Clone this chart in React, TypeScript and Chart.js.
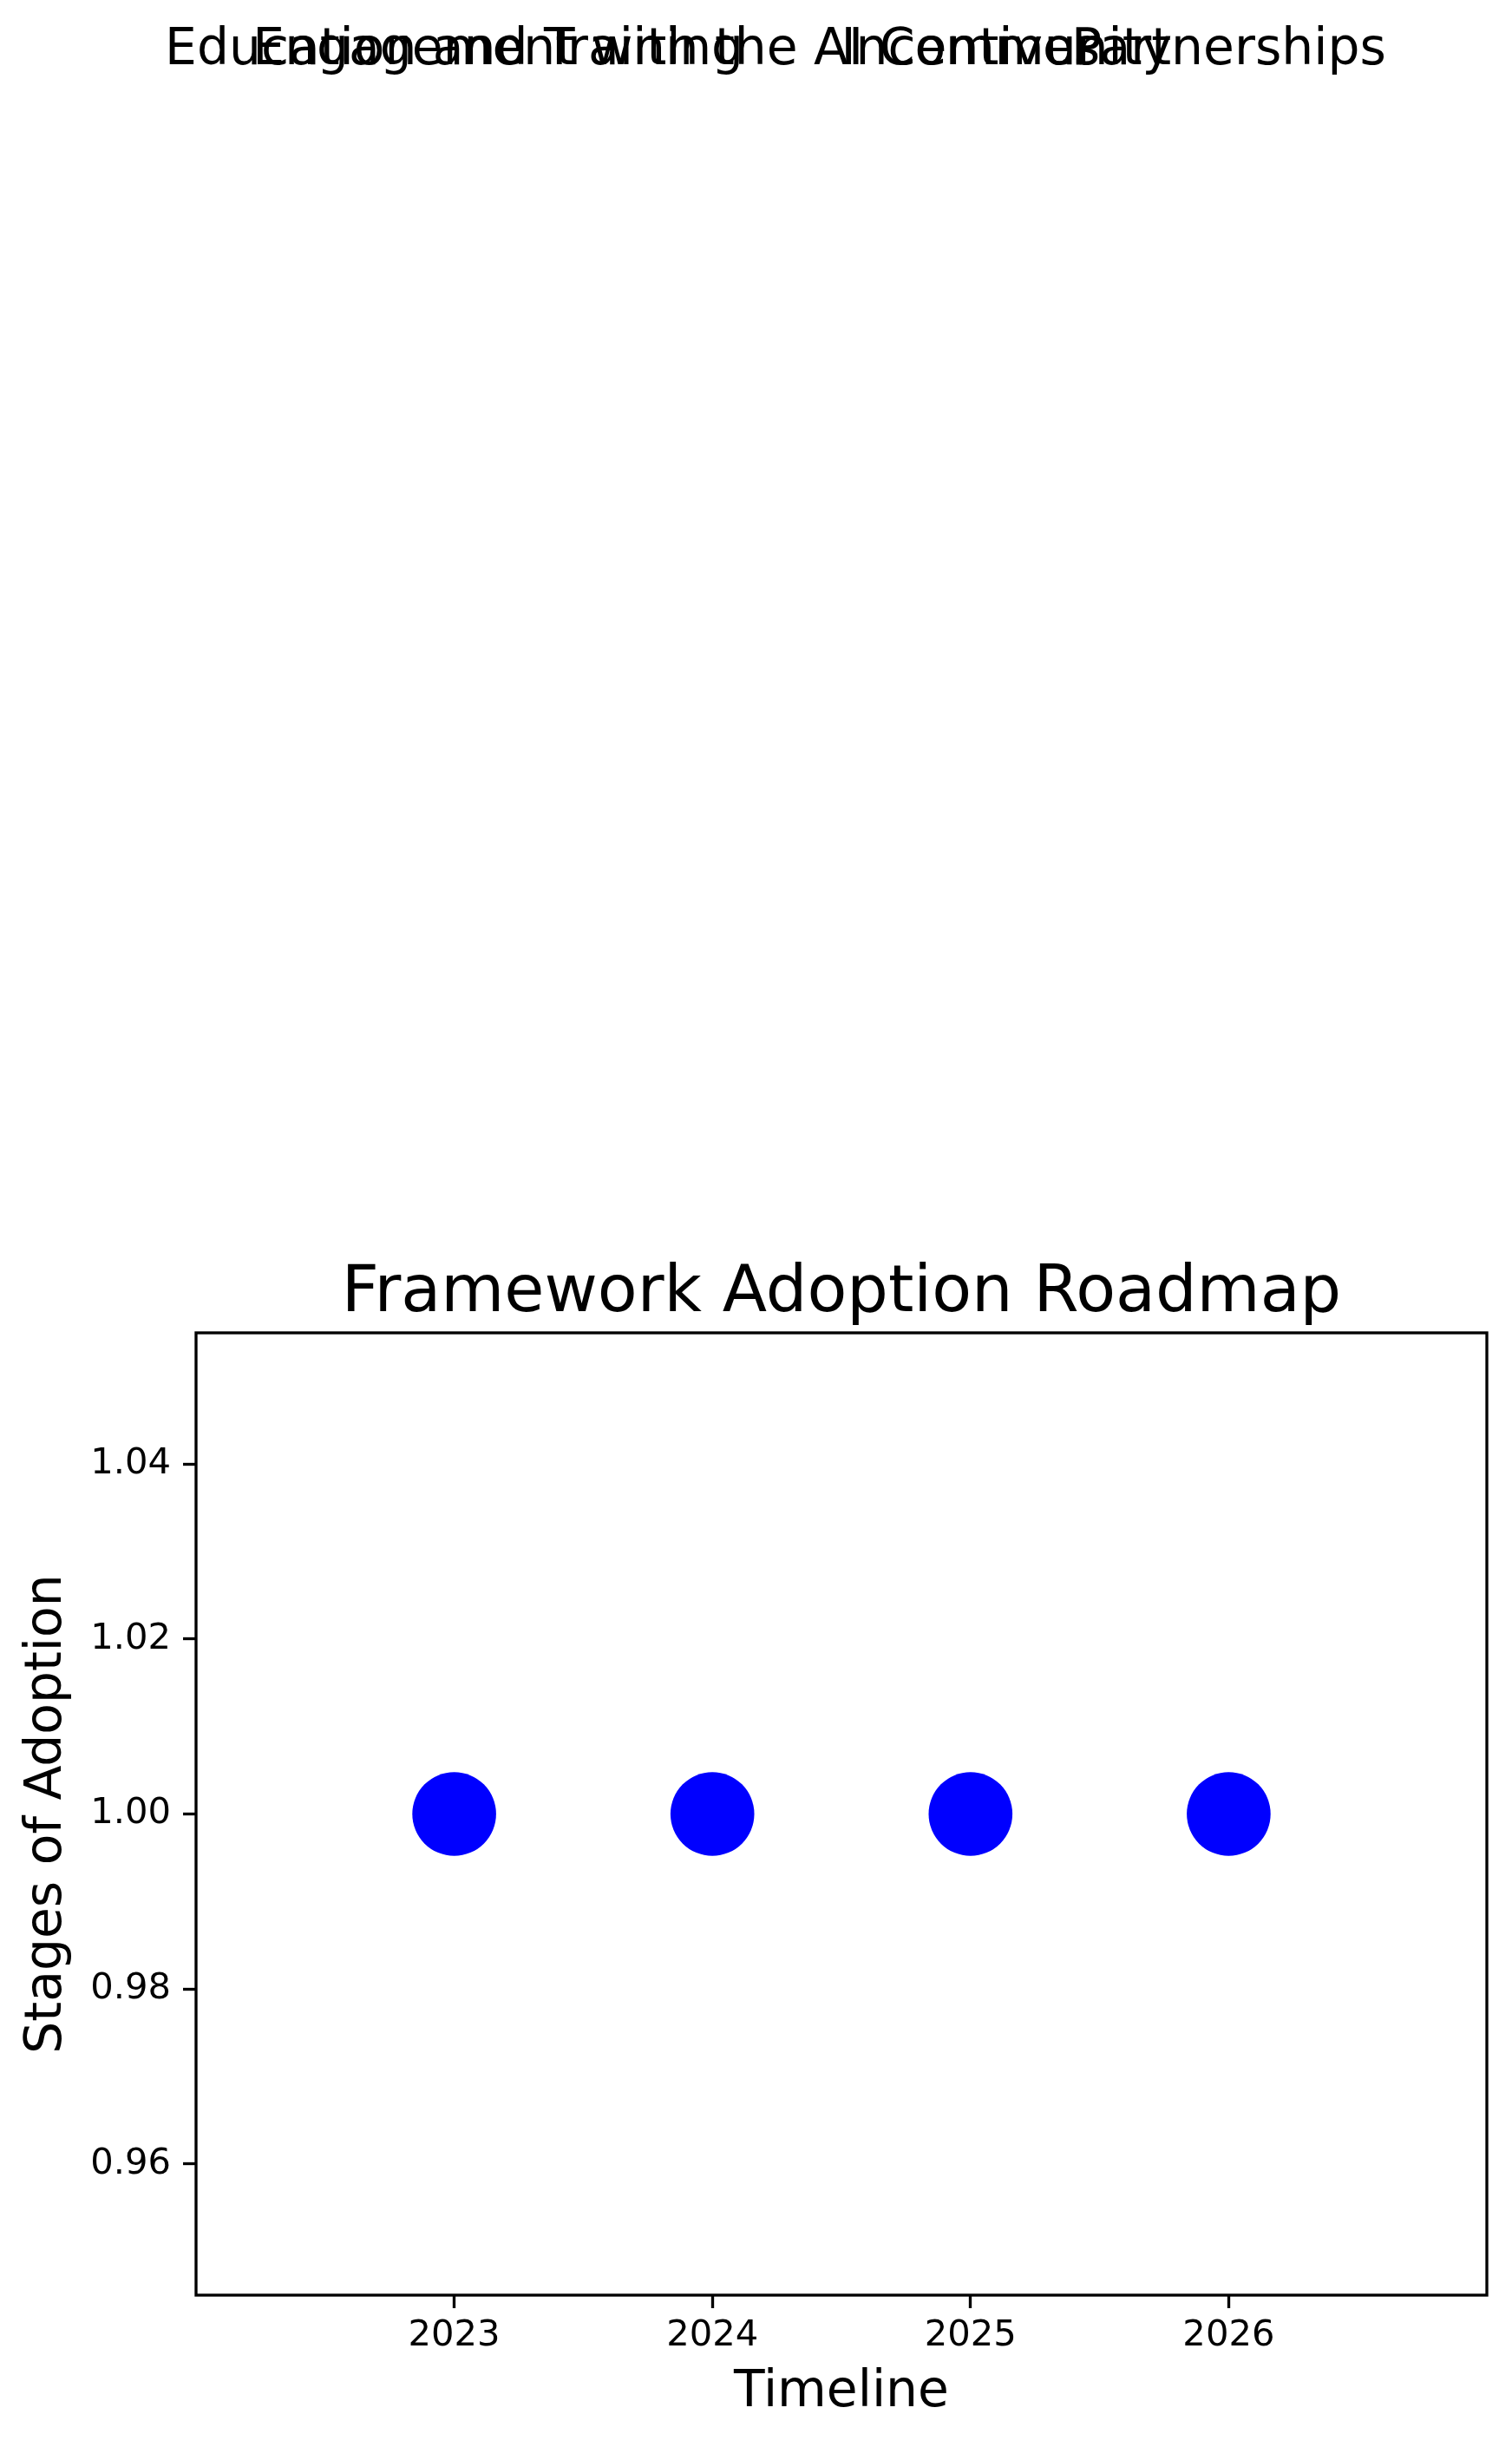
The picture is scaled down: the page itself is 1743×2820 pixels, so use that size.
import React, { useEffect, useRef } from "react";
import { Chart, registerables } from "chart.js";

Chart.register(...registerables);

const years = [2023, 2024, 2025, 2026];
const stages = [1, 1, 1, 1];
const stageLabels = [
  "Education and Training",
  "Engagement with the AI Community",
  "Incentives",
  "Partnerships",
];
const labelY = 1.2;
const xTicks = [2023, 2024, 2025, 2026];
const yTicks = [0.96, 0.98, 1.0, 1.02, 1.04];
const chartTitle = "Framework Adoption Roadmap";

const W = 1743;
const H = 2820;
const FONT = "'DejaVu Sans', sans-serif";

export default function App() {
  const ref = useRef<HTMLCanvasElement | null>(null);

  useEffect(() => {
    document.body.style.margin = "0";
    const canvas = ref.current;
    if (!canvas) return;

    const framePlugin = {
      id: "frameAndLabels",
      afterDraw(chart: any) {
        const { ctx, chartArea, scales } = chart;
        ctx.save();
        ctx.strokeStyle = "#000";
        ctx.lineWidth = 3.33;
        ctx.strokeRect(
          chartArea.left,
          chartArea.top,
          chartArea.right - chartArea.left,
          chartArea.bottom - chartArea.top
        );
        ctx.fillStyle = "#000";
        ctx.textAlign = "center";
        ctx.textBaseline = "alphabetic";
        // title
        ctx.font = `75px ${FONT}`;
        ctx.fillText(chartTitle, (chartArea.left + chartArea.right) / 2, chartArea.top - 25);
        // stage annotations at data coordinates
        ctx.font = `58.3px ${FONT}`;
        years.forEach((yr, i) => {
          const px = scales.x.getPixelForValue(yr);
          const py = scales.y.getPixelForValue(labelY);
          ctx.fillText(stageLabels[i], px, py);
        });
        ctx.restore();
      },
    };

    const chart = new Chart(canvas, {
      type: "scatter",
      data: {
        datasets: [
          {
            data: years.map((yr, i) => ({ x: yr, y: stages[i] })),
            backgroundColor: "#0000ff",
            borderWidth: 0,
            pointRadius: 48.3,
            pointHoverRadius: 48.3,
            clip: false,
          },
        ],
      },
      options: {
        responsive: false,
        animation: false,
        events: [],
        layout: { autoPadding: false, padding: { top: 1536, right: 29, left: 0, bottom: 0 } },
        plugins: {
          legend: { display: false },
          tooltip: { enabled: false },
          title: { display: false },
        },
        scales: {
          x: {
            type: "linear",
            min: 2022,
            max: 2027,
            afterBuildTicks: (scale: any) => {
              scale.ticks = xTicks.map((v) => ({ value: v }));
            },
            afterFit: (scale: any) => {
              scale.height = 175;
            },
            grid: {
              drawOnChartArea: false,
              drawTicks: true,
              tickLength: 15,
              tickWidth: 3.33,
              tickColor: "#000",
            },
            border: { display: false },
            ticks: {
              autoSkip: false,
              maxRotation: 0,
              color: "#000",
              padding: 7,
              font: { family: FONT, size: 41.7, lineHeight: 1.2 },
              callback: (v: any) => String(v),
            },
            title: {
              display: true,
              text: "Timeline",
              color: "#000",
              font: { family: FONT, size: 58.3, lineHeight: 1.2 },
              padding: { top: 0, bottom: 27 },
            },
          },
          y: {
            type: "linear",
            min: 0.945,
            max: 1.055,
            afterBuildTicks: (scale: any) => {
              scale.ticks = yTicks.map((v) => ({ value: v }));
            },
            afterFit: (scale: any) => {
              scale.width = 226;
            },
            grid: {
              drawOnChartArea: false,
              drawTicks: true,
              tickLength: 15,
              tickWidth: 3.33,
              tickColor: "#000",
            },
            border: { display: false },
            ticks: {
              color: "#000",
              padding: 14,
              font: { family: FONT, size: 41.7, lineHeight: 1.2 },
              callback: (v: any) => Number(v).toFixed(2),
            },
            title: {
              display: true,
              text: "Stages of Adoption",
              color: "#000",
              font: { family: FONT, size: 58.3, lineHeight: 1.2 },
              padding: { top: 20, bottom: 0 },
            },
          },
        },
      },
      plugins: [framePlugin],
    });

    return () => chart.destroy();
  }, []);

  return (
    <div style={{ position: "absolute", left: 0, top: 0, width: W, height: H, background: "#fff" }}>
      <canvas ref={ref} width={W} height={H} style={{ width: W, height: H, display: "block" }} />
    </div>
  );
}
